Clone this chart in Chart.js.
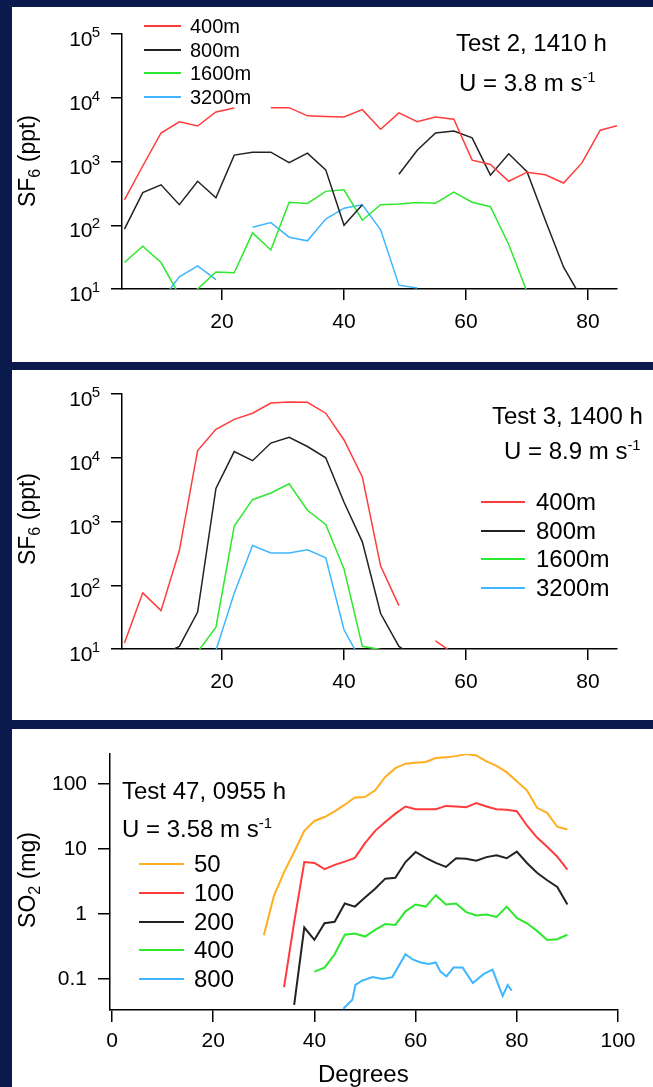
<!DOCTYPE html>
<html><head><meta charset="utf-8">
<script src="https://cdn.jsdelivr.net/npm/chart.js@4/dist/chart.umd.min.js"></script>
<style>
html,body{margin:0;padding:0}
body{background:#0b1a4d;width:653px;height:1087px;overflow:hidden;position:relative;font-family:"Liberation Sans",Arial,Helvetica,sans-serif;color:#000}
.panel{position:absolute;left:12px;width:641px;background:#fff}
.panel canvas{display:block}
.t{position:absolute;white-space:nowrap;line-height:1;color:#000}
.t sup{font-size:0.62em;position:relative;top:-0.05em;vertical-align:top;line-height:1}
.sub{font-size:0.7em;position:relative;top:0.32em}
.leg{position:absolute;height:2px}
.ytitle{position:absolute;white-space:nowrap;line-height:1;transform:translate(-50%,-50%) rotate(-90deg);font-size:23px}
</style></head><body>
<div class="panel" style="top:7px;height:355px"><canvas id="c1" width="641" height="355" style="width:641px;height:355px"></canvas></div>
<div class="panel" style="top:370px;height:350px"><canvas id="c2" width="641" height="350" style="width:641px;height:350px"></canvas></div>
<div class="panel" style="top:729px;height:358px"><canvas id="c3" width="641" height="358" style="width:641px;height:358px"></canvas></div>

<div class="ytitle" style="left:27px;top:161px">SF<span class="sub">6</span> (ppt)</div>
<div class="ytitle" style="left:27px;top:519px">SF<span class="sub">6</span> (ppt)</div>
<div class="ytitle" style="left:27px;top:880px">SO<span class="sub">2</span> (mg)</div>

<div class="t" style="left:456px;top:31px;font-size:24px">Test 2, 1410 h</div>
<div class="t" style="left:459px;top:71px;font-size:24px">U = 3.8 m s<sup>-1</sup></div>
<div class="t" style="left:492px;top:404px;font-size:24px">Test 3, 1400 h</div>
<div class="t" style="left:504px;top:439px;font-size:24px">U = 8.9 m s<sup>-1</sup></div>
<div class="t" style="left:122px;top:779px;font-size:24px">Test 47, 0955 h</div>
<div class="t" style="left:122px;top:817px;font-size:24px">U = 3.58 m s<sup>-1</sup></div>
<div class="t" style="left:318px;top:1062px;font-size:24px">Degrees</div>
<div id="legends"></div>

<script>
const FONT = '"Liberation Sans", Arial, Helvetica, sans-serif';
const C_RED = '#ff3b3b', C_BLACK = '#222222', C_GREEN = '#2ee82e', C_BLUE = '#3fb6ff', C_ORANGE = '#ffae1f';

// ---------- Panel 1: Test 2, 1410 h (SF6, ppt) ----------
const T2_DEG   = [4,7,10,13,16,19,22,25,28,31,34,37,40,43,46,49,52,55,58,61,64,67,70,73,76,79,82,85];
const T2_400M  = [250,850,2800,4200,3600,6000,6900,null,7000,7000,5200,5100,5000,6500,3200,5800,4200,5000,4600,1050,900,490,680,620,460,950,3100,3700];
const T2_800M  = [87,325,430,210,490,270,1260,1400,1400,960,1350,740,100,210,null,630,1500,2800,3000,2350,610,1320,690,120,22,7,null,null];
const T2_1600M = [26,47,26,8,10,18.5,18,76,41,230,220,340,360,120,210,215,228,222,330,230,195,50,9,null,null,null,null,null];
const T2_3200M = [null,null,6.5,15.5,23,14,null,93,110,65,57,125,185,210,85,11.5,10.4,null,null,null,null,null,null,null,null,null,null,null];

// ---------- Panel 2: Test 3, 1400 h (SF6, ppt) ----------
const T3_DEG   = [4,7,10,13,16,19,22,25,28,31,34,37,40,43,46,49,52,55,58];
const T3_400M  = [12.4,76,40,350,13000,28000,40000,50000,72000,75000,74000,50000,19000,5000,200,48,null,13.4,8.5];
const T3_800M  = [null,null,8,11,38,3300,12500,9000,17000,21000,15000,10000,2000,480,36,11,7,null,null];
const T3_1600M = [null,null,null,null,9,22,850,2200,2800,3900,1500,900,180,11,9.8,null,null,null,null];
const T3_3200M = [null,null,null,null,null,9.5,75,420,320,320,360,270,20,6,null,null,null,null,null];

// ---------- Panel 3: Test 47, 0955 h (SO2, mg) ----------
const T47_50_DEG  = [30,32,34,36,38,40,42,44,46,48,50,52,54,56,58,60,62,64,66,68,70,72,74,76,78,80,82,84,86,88,90];
const T47_50      = [0.47,1.9,4.4,9,19,27,31,38,48,62,63,80,128,175,205,212,218,250,258,268,288,275,222,190,152,110,80,43,36,22,20];
const T47_100_DEG = [34,36,38,40,42,44,46,48,50,52,54,56,58,60,62,64,66,68,70,72,74,76,78,80,82,84,86,88,90];
const T47_100     = [0.075,0.75,6.3,6.1,4.9,5.7,6.4,7.3,12.3,19,26,35,45,41,41,41,46,45,44,51,45,41,40,38,23,15,10.8,7.6,4.8];
const T47_200_DEG = [36,38,40,42,44,46,48,50,52,54,56,58,60,62,64,66,68,70,72,74,76,78,80,82,84,86,88,90];
const T47_200     = [0.04,0.62,0.4,0.72,0.76,1.45,1.3,1.8,2.45,3.5,3.6,6.3,9,7.3,6.1,5.3,7.2,7.1,6.6,7.5,8,7.2,9.1,6.1,4.3,3.3,2.6,1.4];
const T47_400_DEG = [40,42,44,46,48,50,52,54,56,58,60,62,64,66,68,70,72,74,76,78,80,82,84,86,88,90];
const T47_400     = [0.13,0.15,0.24,0.48,0.5,0.45,0.57,0.7,0.68,1.1,1.4,1.3,1.95,1.4,1.45,1.07,0.95,0.98,0.9,1.3,0.87,0.72,0.55,0.4,0.41,0.48];
const T47_800_DEG = [45.7,47.5,48.1,49.5,51.5,53.5,55.4,58,59.4,61,62.6,64,64.9,66.1,67.5,69.3,71.3,73.5,75.2,77.2,78.2,79];
const T47_800     = [0.035,0.048,0.081,0.095,0.107,0.1,0.107,0.24,0.2,0.18,0.17,0.18,0.13,0.11,0.15,0.15,0.087,0.12,0.14,0.055,0.081,0.066];

// ---------- Axes ----------
const SF6_TICKS = [10,100,1000,10000,100000];
const DEG_TICKS_A = [20,40,60,80];
const DEG_TICKS_B = [0,20,40,60,80,100];
const DEG_LABELS_A = ['20','40','60','80'];
const DEG_LABELS_B = ['0','20','40','60','80','100'];
const SO2_TICKS = [0.1,1,10,100];
const SO2_LABELS = ['0.1','1','10','100'];
const SF6_LEGEND = ['400m','800m','1600m','3200m'];
const SO2_LEGEND = ['50','100','200','400','800'];

function pts(xs, ys){ return xs.map((x,i)=>({x:x, y:(ys[i]===undefined?null:ys[i])})); }
function ds(label, xs, ys, color, w){
  return {label, data: pts(xs, ys), borderColor: color, backgroundColor: color, borderWidth: w,
          pointRadius: 0, tension: 0, fill: false, spanGaps: false};
}

const sciLabels = {
  id: 'sciLabels',
  afterDraw(chart){
    if (!chart.options.plugins.sciLabels || !chart.options.plugins.sciLabels.on) return;
    const s = chart.scales.y, ctx = chart.ctx;
    ctx.save(); ctx.fillStyle = '#000'; ctx.textAlign = 'right'; ctx.textBaseline = 'alphabetic';
    s.ticks.forEach(t => {
      const y = s.getPixelForValue(t.value);
      const e = Math.round(Math.log10(t.value));
      ctx.font = '15px ' + FONT; ctx.fillText(String(e), 88, y + 3);
      ctx.font = '21px ' + FONT; ctx.fillText('10', 80.5, y + 12);
    });
    ctx.restore();
  }
};

function axisCommon(tickLen){
  return {
    grid: {display: true, drawOnChartArea: false, drawTicks: true, tickLength: tickLen, color: '#000', lineWidth: 1.5},
    border: {display: true, color: '#000', width: 1.5}
  };
}

function makeChart(id, datasets, cfg){
  return new Chart(document.getElementById(id), {
    type: 'line',
    data: {datasets},
    options: {
      responsive: false, animation: false, devicePixelRatio: 1,
      layout: {padding: cfg.padding},
      plugins: {legend: {display: false}, tooltip: {enabled: false}, sciLabels: {on: cfg.sci}},
      scales: {
        x: Object.assign(axisCommon(cfg.xTickLen), {
          type: 'linear', min: cfg.xMin, max: cfg.xMax,
          afterFit: s => { s.height = cfg.xH; },
          afterBuildTicks: s => { s.ticks = cfg.xTicks.map(v => ({value: v})); },
          ticks: {font: {size: 21, family: FONT}, color: '#000', padding: cfg.xPad, maxRotation: 0, autoSkip: false,
                  callback: (v) => cfg.xLabels[cfg.xTicks.indexOf(v)]}
        }),
        y: Object.assign(axisCommon(cfg.yTickLen), {
          type: 'logarithmic', min: cfg.yMin, max: cfg.yMax,
          afterFit: s => { s.width = cfg.yW; },
          afterBuildTicks: s => { s.ticks = cfg.yTicks.map(v => ({value: v})); },
          ticks: {display: !cfg.sci, font: {size: 21, family: FONT}, color: '#000', padding: cfg.yPad || 0, autoSkip: false,
                  callback: (v) => cfg.yLabels ? cfg.yLabels[cfg.yTicks.indexOf(v)] : ''}
        })
      }
    },
    plugins: [sciLabels]
  });
}

const LW = 1.5;
makeChart('c1', [
  ds(SF6_LEGEND[0], T2_DEG, T2_400M, C_RED, LW),
  ds(SF6_LEGEND[1], T2_DEG, T2_800M, C_BLACK, LW),
  ds(SF6_LEGEND[2], T2_DEG, T2_1600M, C_GREEN, LW),
  ds(SF6_LEGEND[3], T2_DEG, T2_3200M, C_BLUE, LW)
], {padding: {left: 0, top: 27, right: 36, bottom: 0}, sci: true, xMin: 3.6, xMax: 84.75, xH: 73, xTicks: DEG_TICKS_A, xLabels: DEG_LABELS_A,
    xTickLen: 11, xPad: 10, yMin: 10, yMax: 100000, yW: 110, yTicks: SF6_TICKS, yTickLen: 11});

makeChart('c2', [
  ds(SF6_LEGEND[0], T3_DEG, T3_400M, C_RED, LW),
  ds(SF6_LEGEND[1], T3_DEG, T3_800M, C_BLACK, LW),
  ds(SF6_LEGEND[2], T3_DEG, T3_1600M, C_GREEN, LW),
  ds(SF6_LEGEND[3], T3_DEG, T3_3200M, C_BLUE, LW)
], {padding: {left: 0, top: 24, right: 36, bottom: 0}, sci: true, xMin: 3.6, xMax: 84.75, xH: 71, xTicks: DEG_TICKS_A, xLabels: DEG_LABELS_A,
    xTickLen: 11, xPad: 10, yMin: 10, yMax: 100000, yW: 110, yTicks: SF6_TICKS, yTickLen: 11});

const LW3 = 2;
makeChart('c3', [
  ds(SO2_LEGEND[0], T47_50_DEG, T47_50, C_ORANGE, LW3),
  ds(SO2_LEGEND[1], T47_100_DEG, T47_100, C_RED, LW3),
  ds(SO2_LEGEND[2], T47_200_DEG, T47_200, C_BLACK, LW3),
  ds(SO2_LEGEND[3], T47_400_DEG, T47_400, C_GREEN, LW3),
  ds(SO2_LEGEND[4], T47_800_DEG, T47_800, C_BLUE, LW3)
], {padding: {left: 0, top: 25, right: 35, bottom: 0}, sci: false, xMin: -0.4, xMax: 100, xH: 77, xTicks: DEG_TICKS_B, xLabels: DEG_LABELS_B,
    xTickLen: 12, xPad: 7, yMin: 0.0334, yMax: 289, yW: 98, yTicks: SO2_TICKS, yLabels: SO2_LABELS, yTickLen: 12, yPad: 11});

// ---------- Legends (HTML) ----------
const legBox = document.getElementById('legends');
function legend(labels, colors, lineX0, lineX1, textX, rows, fs){
  labels.forEach((lab, i) => {
    const l = document.createElement('div');
    l.className = 'leg';
    l.style.left = lineX0 + 'px'; l.style.width = (lineX1 - lineX0) + 'px';
    l.style.top = (rows[i] - 1) + 'px'; l.style.background = colors[i];
    legBox.appendChild(l);
    const t = document.createElement('div');
    t.className = 't'; t.style.fontSize = fs + 'px';
    t.style.left = textX + 'px'; t.style.top = (rows[i] - 0.4885 * fs) + 'px';
    t.textContent = lab;
    legBox.appendChild(t);
  });
}
legend(SF6_LEGEND, [C_RED, C_BLACK, C_GREEN, C_BLUE], 144, 181, 190, [26, 49.5, 73, 96.5], 20);
legend(SF6_LEGEND, [C_RED, C_BLACK, C_GREEN, C_BLUE], 481, 525, 536, [502, 531, 559, 588], 24);
legend(SO2_LEGEND, [C_ORANGE, C_RED, C_BLACK, C_GREEN, C_BLUE], 139, 184, 194, [864, 893, 922, 950, 979], 24);
</script>
</body></html>
